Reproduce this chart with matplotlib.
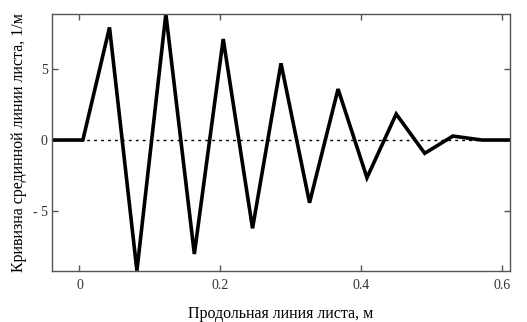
import matplotlib
matplotlib.use("Agg")
import matplotlib.pyplot as plt

# curvature of the sheet midline vs position along the sheet
x_pos = [-0.039, 0.0048, 0.0426, 0.0815, 0.1226, 0.163, 0.204, 0.2456, 0.286,
         0.3265, 0.367, 0.408, 0.4495, 0.49, 0.53, 0.571, 0.611]
curv = [0.0, 0.0, 7.97, -9.25, 8.92, -8.07, 7.15, -6.25, 5.43,
        -4.44, 3.61, -2.67, 1.84, -0.94, 0.28, 0.0, 0.0]

x_ticks = [0, 0.2, 0.4, 0.6]
x_tick_labels = ["0", "0.2", "0.4", "0.6"]
y_ticks = [-5, 0, 5]
y_tick_labels = ["- 5", "0", "5"]

plt.rcParams["font.family"] = ["Liberation Serif", "DejaVu Serif"]

fig = plt.figure(figsize=(5.27, 3.22), dpi=100)
ax = fig.add_axes([0.0987, 0.1593, 0.869, 0.7972])

ax.axhline(0, color="black", lw=1.0, ls=(0, (2, 3)), zorder=1)
ax.plot(x_pos, curv, color="black", lw=2.6, solid_joinstyle="miter", zorder=2)

ax.set_xlim(-0.039, 0.611)
ax.set_ylim(-9.25, 8.92)

ax.set_xticks(x_ticks)
ax.set_xticklabels(x_tick_labels)
ax.set_yticks(y_ticks)
ax.set_yticklabels(y_tick_labels)
ax.tick_params(direction="in", top=True, right=True, length=4, width=1,
               color="#555555", labelcolor="#333333", labelsize=10, pad=6)
ax.tick_params(axis="y", pad=3)

for sp in ax.spines.values():
    sp.set_color("#555555")
    sp.set_linewidth(1.0)

ax.set_xlabel("Продольная линия листа, м", fontsize=11.5, labelpad=10)
ax.set_ylabel("Кривизна срединной линии листа, 1/м", fontsize=11.5, labelpad=4)

fig.savefig("out.png", dpi=100)
